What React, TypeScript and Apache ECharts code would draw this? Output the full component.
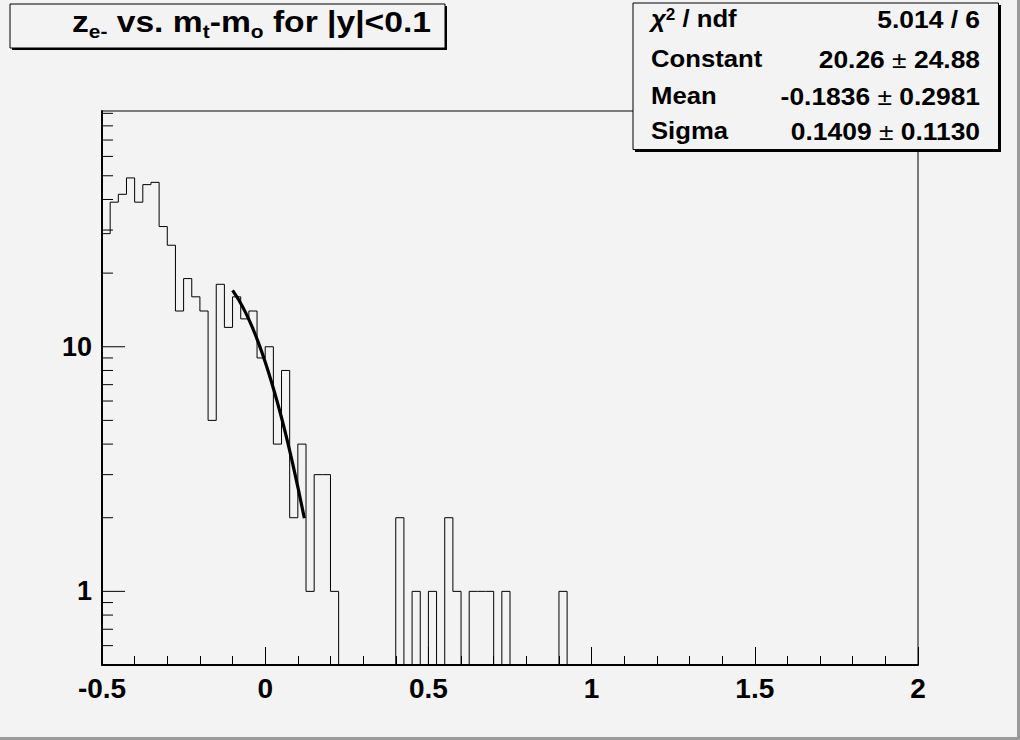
import React, { useEffect, useRef } from 'react';
import * as echarts from 'echarts';

// ---- data ----
const X_MIN = -0.5;
const X_MAX = 2;
const X_INTERVAL = 0.5;
const BIN_WIDTH = 0.025;
const Y_MIN = 0.5;
const Y_MAX = 92;

// 100 bins of width 0.025 from -0.5 to 2
const counts = [
  29, 39, 42, 49, 39, 46, 47, 31, 26, 14,
  19, 16, 14, 5, 18, 12, 16, 13, 14, 9,
  10, 4, 8, 2, 4, 1, 3, 3, 1, 0,
  0, 0, 0, 0, 0, 0, 2, 0, 1, 0,
  1, 0, 2, 1, 0, 1, 1, 1, 0, 1,
  0, 0, 0, 0, 0, 0, 1, 0, 0, 0,
  0, 0, 0, 0, 0, 0, 0, 0, 0, 0,
  0, 0, 0, 0, 0, 0, 0, 0, 0, 0,
  0, 0, 0, 0, 0, 0, 0, 0, 0, 0,
  0, 0, 0, 0, 0, 0, 0, 0, 0, 0,
];

const fitX = [-0.10, -0.08, -0.06, -0.04, -0.02, 0.00, 0.02, 0.04, 0.06, 0.08, 0.10, 0.12];
const fitY = [16.99, 15.46, 13.79, 12.05, 10.32, 8.67, 7.13, 5.75, 4.55, 3.52, 2.67, 1.99];

const yMajorTicks = [1, 10];
const yMinorTicks = [0.6, 0.7, 0.8, 0.9, 2, 3, 4, 5, 6, 7, 8, 9, 20, 30, 40, 50, 60, 70, 80, 90];

const statLabels = ['{chi|χ}{sup|2}{t| / ndf}', '{t|Constant}', '{t|Mean}', '{t|Sigma}'];
const statValues = ['{t|5.014 / 6}', '{t|20.26 }{pm|±}{t| 24.88}', '{t|-0.1836 }{pm|±}{t| 0.2981}', '{t|0.1409 }{pm|±}{t| 0.1130}'];
const titleText = '{m|z}{sub|e-}{m| vs. m}{sub|t}{m|-m}{sub|o}{m| for |y|<0.1}';

const BG = '#f3f3f3';
const FONT = '"Liberation Sans", Arial, Helvetica, sans-serif';

export default function App() {
  const ref = useRef<HTMLDivElement>(null);

  useEffect(() => {
    if (!ref.current) return;
    const chart = echarts.init(ref.current, undefined, { renderer: 'svg' });

    const histLine: number[][] = [[X_MIN, Y_MIN]];
    counts.forEach((c, i) => {
      const lo = X_MIN + i * BIN_WIDTH;
      const y = c > 0 ? c : Y_MIN;
      histLine.push([lo, y], [lo + BIN_WIDTH, y]);
    });
    const fitData = fitX.map((x, i) => [x, fitY[i]]);
    const tickData = yMajorTicks.concat(yMinorTicks).map((v) => [X_MIN, v]);

    const rowY = [19.6, 59.6, 96.6, 131.6];

    const statElems: any[] = [];
    statLabels.forEach((s, i) => {
      statElems.push({
        type: 'text',
        z: 102,
        x: 651,
        y: rowY[i],
        scaleX: 1.07,
        style: {
          x: 0, y: 0, text: s, align: 'left', verticalAlign: 'middle',
          rich: {
            t: { fontFamily: FONT, fontWeight: 'bold', fontSize: 24, fill: '#000', lineHeight: 26, verticalAlign: 'top' },
            chi: { fontFamily: FONT, fontWeight: 'bold', fontStyle: 'italic', fontSize: 24, fill: '#000', lineHeight: 26, verticalAlign: 'top' },
            sup: { fontFamily: FONT, fontWeight: 'bold', fontSize: 16, fill: '#000', lineHeight: 16, verticalAlign: 'top' },
          },
        },
      });
      statElems.push({
        type: 'text',
        z: 102,
        x: 980,
        y: rowY[i],
        scaleX: 1.1,
        style: {
          x: 0, y: 0, text: statValues[i], align: 'right', verticalAlign: 'middle',
          rich: {
            t: { fontFamily: FONT, fontWeight: 'bold', fontSize: 24, fill: '#000', lineHeight: 26 },
            pm: { fontFamily: FONT, fontWeight: 'normal', fontSize: 24, fill: '#000', lineHeight: 26 },
          },
        },
      });
    });

    chart.setOption({
      animation: false,
      backgroundColor: BG,
      grid: {
        left: 102, right: 102, top: 111, bottom: 75,
        show: true, borderColor: '#000', borderWidth: 1, backgroundColor: 'transparent',
      },
      xAxis: {
        type: 'value', min: X_MIN, max: X_MAX, interval: X_INTERVAL,
        axisLine: { show: true, onZero: false, lineStyle: { color: '#000', width: 2 } },
        axisTick: { show: true, inside: true, length: 18, lineStyle: { color: '#000', width: 1 } },
        minorTick: { show: true, splitNumber: 5, length: 9, lineStyle: { color: '#000', width: 1 } },
        splitLine: { show: false },
        axisLabel: {
          color: '#000', fontFamily: FONT, fontWeight: 'bold', fontSize: 28, margin: 9,
          showMinLabel: true, showMaxLabel: true,
          formatter: (v: number) => String(Math.round(v * 10) / 10),
        },
      },
      yAxis: {
        type: 'log', min: Y_MIN, max: Y_MAX, logBase: 10,
        axisLine: { show: true, onZero: false, lineStyle: { color: '#000', width: 2 } },
        axisTick: { show: false },
        minorTick: { show: false },
        splitLine: { show: false },
        axisLabel: {
          color: '#000', fontFamily: FONT, fontWeight: 'bold', fontSize: 27, margin: 10,
          formatter: (v: number) => {
            const r = Math.round(v * 1000) / 1000;
            return yMajorTicks.indexOf(r) >= 0 ? String(r) : '';
          },
        },
      },
      series: [
        {
          type: 'custom',
          coordinateSystem: 'cartesian2d',
          data: tickData,
          clip: false,
          silent: true,
          z: 3,
          renderItem: (params: any, api: any) => {
            const v = api.value(1);
            const p = api.coord([api.value(0), v]);
            const len = yMajorTicks.indexOf(v) >= 0 ? 23 : 11;
            return {
              type: 'line',
              shape: { x1: p[0], y1: p[1], x2: p[0] + len, y2: p[1] },
              style: { stroke: '#000', lineWidth: 1 },
            };
          },
        },
        {
          type: 'line',
          data: histLine,
          showSymbol: false,
          symbol: 'none',
          silent: true,
          lineStyle: { color: '#000', width: 1 },
          z: 4,
        },
        {
          type: 'line',
          data: fitData,
          showSymbol: false,
          symbol: 'none',
          smooth: 0.3,
          silent: true,
          lineStyle: { color: '#000', width: 3.2 },
          z: 5,
        },
      ],
      graphic: [
        // canvas bevel
        { type: 'rect', z: 100, shape: { x: 1017, y: 0, width: 3, height: 740 }, style: { fill: '#9a9a9a' } },
        { type: 'rect', z: 100, shape: { x: 0, y: 737, width: 1020, height: 3 }, style: { fill: '#9a9a9a' } },
        // title box
        { type: 'rect', z: 100, shape: { x: 12, y: 6, width: 435, height: 44 }, style: { fill: '#000' } },
        { type: 'rect', z: 101, shape: { x: 10, y: 4, width: 435, height: 44 }, style: { fill: BG, stroke: '#000', lineWidth: 1 } },
        {
          type: 'text', z: 102,
          x: 72, y: 8, scaleX: 1.16,
          style: {
            x: 0, y: 0, text: titleText, align: 'left', verticalAlign: 'top',
            rich: {
              m: { fontFamily: FONT, fontWeight: 'bold', fontSize: 29, fill: '#000', lineHeight: 30, verticalAlign: 'top' },
              sub: { fontFamily: FONT, fontWeight: 'bold', fontSize: 18, fill: '#000', lineHeight: 18, verticalAlign: 'top', padding: [15, 0, 0, 0] },
            },
          },
        },
        // stats box
        { type: 'rect', z: 100, shape: { x: 635, y: 5, width: 366, height: 147 }, style: { fill: '#000' } },
        { type: 'rect', z: 101, shape: { x: 633, y: 3, width: 365.5, height: 146.5 }, style: { fill: BG, stroke: '#000', lineWidth: 1 } },
        ...statElems,
      ],
    });

    return () => chart.dispose();
  }, []);

  return (
    <div
      ref={ref}
      style={{ position: 'absolute', left: 0, top: 0, width: 1020, height: 740 }}
    />
  );
}
